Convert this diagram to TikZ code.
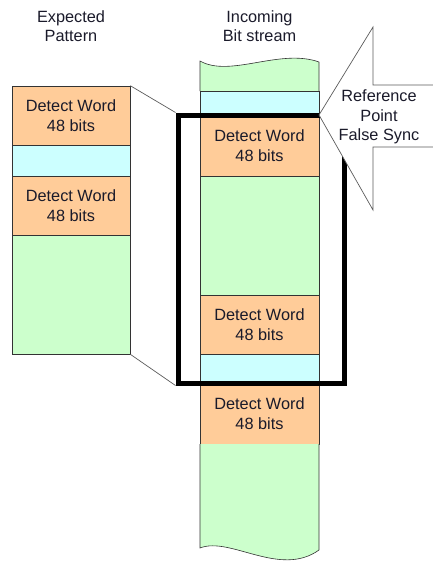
\documentclass[tikz,border=0pt]{standalone}
\usepackage{fontspec}
\setmainfont{Liberation Sans}
\definecolor{org}{HTML}{FFCC99}
\definecolor{cyn}{HTML}{CCFFFF}
\definecolor{grn}{HTML}{CCFFCC}
\definecolor{txt}{HTML}{1A1A2A}
\definecolor{edge}{HTML}{333333}
\tikzset{
  blk/.style={draw=edge, line width=0.6pt, minimum width=118pt, inner sep=0pt,
    align=center, text=txt, font=\fontsize{16.3}{20}\selectfont},
  hdr/.style={align=center, text=txt, font=\fontsize{16.3}{19}\selectfont, inner sep=0pt},
  link/.style={draw=edge!80, line width=0.7pt}
}
\begin{document}
\begin{tikzpicture}[x=1pt,y=-1pt]
\useasboundingbox (0,0) rectangle (433,563);
% headers
\node[hdr] (h1) at (71,26.5) {Expected\\Pattern};
\node[hdr] (h2) at (259.5,26.5) {Incoming\\Bit stream};
% left column
\node[blk, fill=org, minimum height=59pt] (L1) at (71,115.5) {Detect Word\\48 bits};
\node[blk, fill=cyn, minimum height=31pt] (L2) at (71,160.5) {};
\node[blk, fill=org, minimum height=59pt] (L3) at (71,205.5) {Detect Word\\48 bits};
\node[blk, fill=grn, minimum height=119pt] (L4) at (71,294.5) {};
% middle column
\fill[grn] (200,91) -- (200,61) .. controls (230,78) and (280,48) .. (319,62) -- (319,91) -- cycle;
\draw[edge, line width=0.6pt] (200,91) -- (200,61) .. controls (230,78) and (280,48) .. (319,62) -- (319,91);
\node[blk, fill=cyn, minimum width=119pt, minimum height=25pt] (M1) at (259.5,103.5) {};
\node[blk, fill=org, minimum width=119pt, minimum height=60pt] (M2) at (259.5,146) {Detect Word\\48 bits};
\node[blk, fill=grn, minimum width=119pt, minimum height=119pt] (M3) at (259.5,235.5) {};
\node[blk, fill=org, minimum width=119pt, minimum height=59pt] (M4) at (259.5,324.5) {Detect Word\\48 bits};
\node[blk, fill=cyn, minimum width=119pt, minimum height=29pt] (M5) at (259.5,368.5) {};
\node[blk, fill=org, minimum width=119pt, minimum height=61pt] (M6) at (259.5,413.5) {Detect Word\\48 bits};
\fill[grn] (200,444) -- (200,548) .. controls (230,536) and (280,578) .. (319,550) -- (319,444) -- cycle;
\draw[edge, line width=0.6pt] (200,444) -- (200,548) .. controls (230,536) and (280,578) .. (319,550) -- (319,444);
% window
\node[draw=black, line width=5pt, minimum width=166pt, minimum height=268pt, inner sep=0pt] (win) at (261,249) {};
\draw[link] (L1.north east) -- (win.north west);
\draw[link] (L4.south east) -- (win.south west);
% callout
\filldraw[fill=white, draw=edge!80, line width=0.7pt]
  (319,115) -- (373,27) -- (373,85) -- (440,85) -- (440,147) -- (373,147) -- (373,210) -- cycle;
\node[hdr, font=\fontsize{16.3}{19.5}\selectfont] (co) at (379,117) {Reference\\Point\\False Sync};
\end{tikzpicture}
\end{document}
